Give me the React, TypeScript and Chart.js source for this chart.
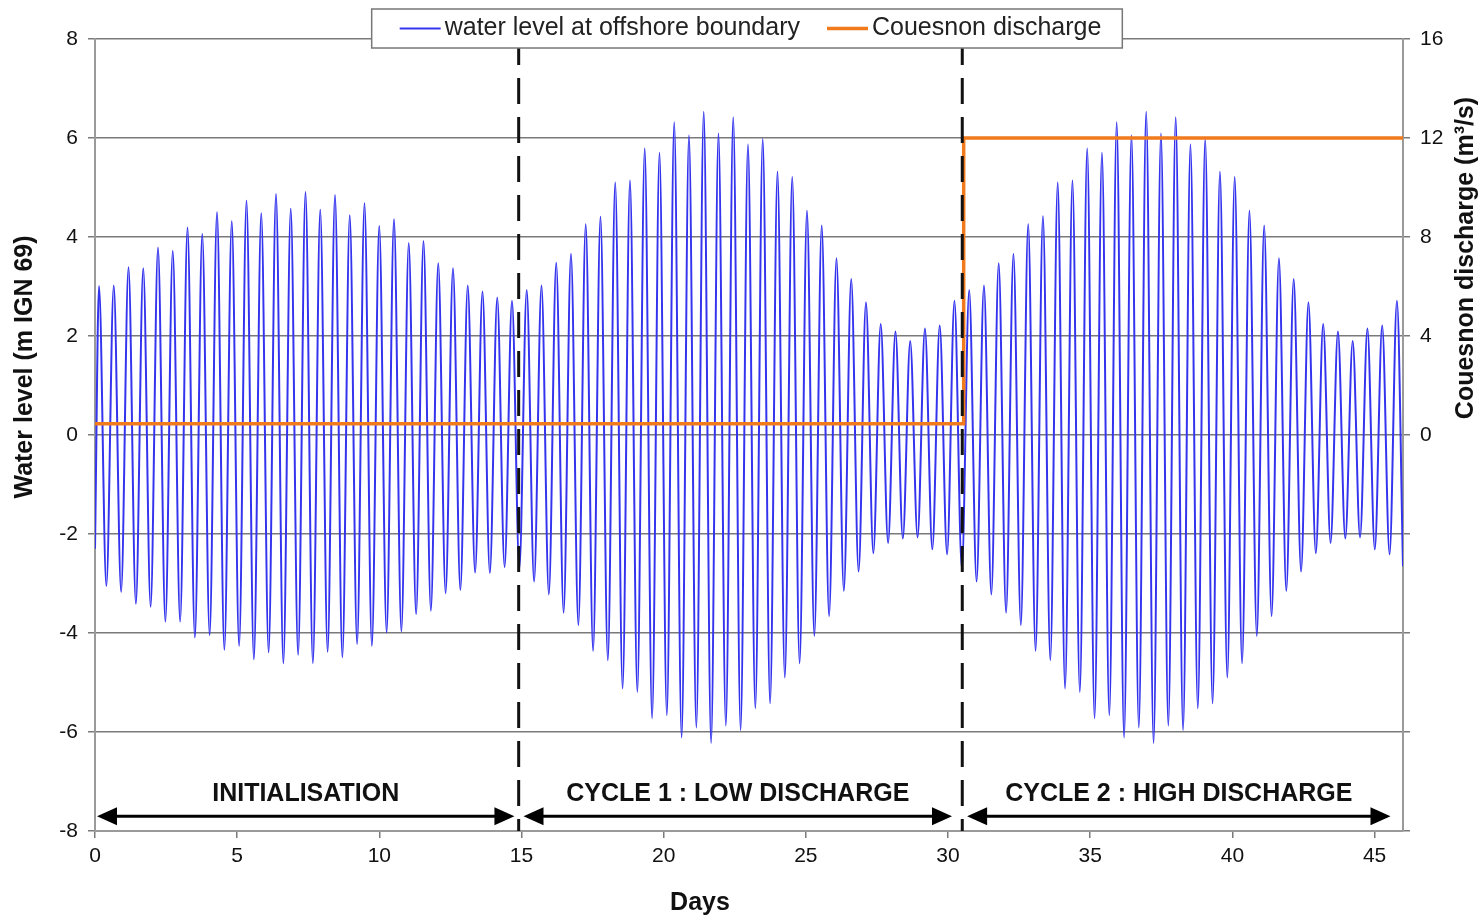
import React, { useEffect, useRef } from "react";
import { Chart, registerables } from "chart.js";

Chart.register(...registerables);

// ---- tide timing (semi-diurnal high waters on a regular grid) ----
const TIDE_START_DAY = 0.141;
const TIDE_PERIOD_DAYS = 0.5187;
const START_LEVEL = -2.3;
const END_DAY = 46;
const END_LEVEL = -2.65;

// ---- high waters (m IGN 69) ----
const initHighs = [
  3.01, 3.02, 3.39, 3.37, 3.79, 3.72, 4.19, 4.06, 4.5, 4.32, 4.73, 4.48, 4.87, 4.57, 4.91,
  4.55, 4.85, 4.44, 4.68, 4.22, 4.36, 3.88, 3.92, 3.47, 3.37, 3.02, 2.9, 2.78, 2.71,
];
const cycle1Highs = [
  2.93, 3.02, 3.48, 3.66, 4.26, 4.41, 5.1, 5.14, 5.79, 5.7, 6.32, 6.05, 6.53, 6.09, 6.42,
  5.87, 5.98, 5.32, 5.21, 4.53, 4.23, 3.57, 3.15, 2.68, 2.24, 2.09, 1.9, 2.15, 2.21, 2.71,
];
const cycle2Highs = [
  2.93, 3.02, 3.47, 3.66, 4.26, 4.42, 5.1, 5.14, 5.79, 5.7, 6.32, 6.05, 6.53, 6.09, 6.42,
  5.87, 5.98, 5.32, 5.21, 4.53, 4.23, 3.57, 3.15, 2.68, 2.24, 2.09, 1.9, 2.15, 2.21, 2.71,
];

// ---- low waters (m IGN 69) ----
const initLows = [
  -3.05, -3.17, -3.41, -3.47, -3.77, -3.77, -4.09, -4.04, -4.34, -4.26, -4.53, -4.39, -4.61,
  -4.44, -4.61, -4.38, -4.49, -4.22, -4.26, -3.99, -3.97, -3.62, -3.55, -3.2, -3.13, -2.78,
  -2.79, -2.67,
];
const cycle1Lows = [
  -2.7, -2.96, -3.22, -3.59, -3.84, -4.36, -4.55, -5.12, -5.19, -5.72, -5.66, -6.11, -5.91,
  -6.22, -5.87, -5.96, -5.52, -5.42, -4.9, -4.61, -4.06, -3.66, -3.15, -2.76, -2.39, -2.18,
  -2.09, -2.07, -2.31, -2.41,
];
const cycle2Lows = [
  -2.7, -2.96, -3.22, -3.59, -3.84, -4.36, -4.55, -5.12, -5.19, -5.72, -5.66, -6.11, -5.91,
  -6.22, -5.87, -5.96, -5.52, -5.42, -4.9, -4.61, -4.06, -3.66, -3.15, -2.76, -2.39, -2.18,
  -2.09, -2.07, -2.31, -2.41,
];

// ---- Couesnon discharge (m3/s) ----
const dischargeDays = [0, 30.55, 30.55, 46];
const dischargeValues = [0.45, 0.45, 12, 12];

// ---- phases ----
const phaseLabels = ["INITIALISATION", "CYCLE 1 : LOW DISCHARGE", "CYCLE 2 : HIGH DISCHARGE"];
const phaseStart = [0.07, 15.07, 30.67];
const phaseEnd = [14.75, 30.14, 45.56];
const phaseBoundaries = [14.9, 30.5];
const ARROW_LEVEL = -7.7;
const LABEL_LEVEL = -7.25;

const legendLabels = ["water level at offshore boundary", "Couesnon discharge"];

const BLUE = "#3434ee";
const ORANGE = "#f07a1c";
const GRID = "#7a7a7a";
const AXIS = "#9a9a9a";
const FONT = "'Liberation Sans', Arial, sans-serif";

function buildLevel() {
  const highs = [...initHighs, ...cycle1Highs, ...cycle2Highs];
  const lows = [...initLows, ...cycle1Lows, ...cycle2Lows];
  const pts: { x: number; y: number }[] = [{ x: 0, y: START_LEVEL }];
  for (let k = 0; k < highs.length; k++) {
    pts.push({ x: TIDE_START_DAY + k * TIDE_PERIOD_DAYS, y: highs[k] });
    if (k < lows.length) {
      pts.push({ x: TIDE_START_DAY + (k + 0.5) * TIDE_PERIOD_DAYS, y: lows[k] });
    }
  }
  pts.push({ x: END_DAY, y: END_LEVEL });
  return pts;
}

const overlayPlugin = {
  id: "overlay",
  afterDatasetsDraw(chart: any) {
    const { ctx, chartArea, scales } = chart;
    const xs = scales.x;
    const ys = scales.y;
    ctx.save();
    // dashed phase boundaries
    ctx.strokeStyle = "#111";
    ctx.lineWidth = 3;
    ctx.setLineDash([26, 13]);
    phaseBoundaries.forEach((d) => {
      const px = xs.getPixelForValue(d);
      ctx.beginPath();
      ctx.moveTo(px, chartArea.top);
      ctx.lineTo(px, chartArea.bottom);
      ctx.stroke();
    });
    ctx.setLineDash([]);
    // arrows
    const ay = ys.getPixelForValue(ARROW_LEVEL);
    const ly = ys.getPixelForValue(LABEL_LEVEL);
    ctx.fillStyle = "#000";
    ctx.strokeStyle = "#000";
    ctx.lineWidth = 3;
    const head = 20;
    const half = 9;
    phaseLabels.forEach((label, i) => {
      const x1 = xs.getPixelForValue(phaseStart[i]);
      const x2 = xs.getPixelForValue(phaseEnd[i]);
      ctx.beginPath();
      ctx.moveTo(x1 + head - 2, ay);
      ctx.lineTo(x2 - head + 2, ay);
      ctx.stroke();
      ctx.beginPath();
      ctx.moveTo(x1, ay);
      ctx.lineTo(x1 + head, ay - half);
      ctx.lineTo(x1 + head, ay + half);
      ctx.closePath();
      ctx.fill();
      ctx.beginPath();
      ctx.moveTo(x2, ay);
      ctx.lineTo(x2 - head, ay - half);
      ctx.lineTo(x2 - head, ay + half);
      ctx.closePath();
      ctx.fill();
      ctx.font = `bold 25px ${FONT}`;
      ctx.textAlign = "center";
      ctx.textBaseline = "middle";
      ctx.fillStyle = "#111";
      ctx.fillText(label, (x1 + x2) / 2, ly);
      ctx.fillStyle = "#000";
    });
    ctx.restore();
  },
  afterDraw(chart: any) {
    const { ctx, chartArea } = chart;
    ctx.save();
    // axis titles
    ctx.fillStyle = "#111";
    ctx.font = `bold 25px ${FONT}`;
    ctx.textAlign = "center";
    ctx.textBaseline = "middle";
    ctx.save();
    ctx.translate(25, 367);
    ctx.rotate(-Math.PI / 2);
    ctx.fillText("Water level (m IGN 69)", 0, 0);
    ctx.restore();
    ctx.save();
    ctx.translate(1466, 258);
    ctx.rotate(-Math.PI / 2);
    ctx.fillText("Couesnon discharge (m³/s)", 0, 0);
    ctx.restore();
    ctx.fillText("Days", 700, 903);

    // legend
    ctx.font = `25px ${FONT}`;
    const w1 = ctx.measureText(legendLabels[0]).width;
    const w2 = ctx.measureText(legendLabels[1]).width;
    const padL = 28, lineLen = 41, gap = 4, between = 27, padR = 21;
    const boxW = padL + lineLen + gap + w1 + between + lineLen + gap + w2 + padR;
    const cx = (chartArea.left + chartArea.right) / 2 - 2;
    const bx = cx - boxW / 2;
    const by = 9;
    const bh = 39;
    ctx.fillStyle = "#fff";
    ctx.fillRect(bx, by, boxW, bh);
    ctx.strokeStyle = "#777";
    ctx.lineWidth = 1.5;
    ctx.strokeRect(bx, by, boxW, bh);
    const my = by + bh / 2;
    let x = bx + padL;
    ctx.strokeStyle = BLUE;
    ctx.lineWidth = 2;
    ctx.beginPath();
    ctx.moveTo(x, my);
    ctx.lineTo(x + lineLen, my);
    ctx.stroke();
    x += lineLen + gap;
    ctx.fillStyle = "#222";
    ctx.textAlign = "left";
    ctx.fillText(legendLabels[0], x, my);
    x += w1 + between;
    ctx.strokeStyle = ORANGE;
    ctx.lineWidth = 3.5;
    ctx.beginPath();
    ctx.moveTo(x, my);
    ctx.lineTo(x + lineLen, my);
    ctx.stroke();
    x += lineLen + gap;
    ctx.fillText(legendLabels[1], x, my);
    ctx.restore();
  },
};

export default function App() {
  const ref = useRef<HTMLCanvasElement>(null);
  useEffect(() => {
    document.body.style.margin = "0";
    const canvas = ref.current!;
    const tickFont = { family: FONT, size: 21 };
    const chart = new Chart(canvas, {
      type: "line",
      data: {
        datasets: [
          {
            label: legendLabels[0],
            data: buildLevel(),
            borderColor: BLUE,
            borderWidth: 2,
            pointRadius: 0,
            cubicInterpolationMode: "monotone",
            yAxisID: "y",
            order: 2,
          } as any,
          {
            label: legendLabels[1],
            data: dischargeDays.map((d, i) => ({ x: d, y: dischargeValues[i] })),
            borderColor: ORANGE,
            borderWidth: 3.5,
            pointRadius: 0,
            tension: 0,
            yAxisID: "y2",
            order: 1,
          } as any,
        ],
      },
      options: {
        responsive: false,
        animation: false,
        events: [],
        layout: { padding: { top: 39, left: 0, right: 0, bottom: 0 } },
        plugins: { legend: { display: false }, tooltip: { enabled: false } },
        scales: {
          x: {
            type: "linear",
            min: 0,
            max: 46,
            afterFit: (s: any) => {
              s.height = 86;
            },
            ticks: { stepSize: 5, includeBounds: false, font: tickFont, color: "#111", padding: 6, maxRotation: 0 },
            grid: { drawOnChartArea: false, drawTicks: true, tickLength: 7, color: GRID, lineWidth: 1.5 },
            border: { display: true, color: AXIS, width: 2 },
          },
          y: {
            type: "linear",
            position: "left",
            min: -8,
            max: 8,
            afterFit: (s: any) => {
              s.width = 95;
            },
            ticks: { stepSize: 2, font: tickFont, color: "#111", padding: 10 },
            grid: { color: GRID, lineWidth: 1.5, tickLength: 7 },
            border: { display: true, color: AXIS, width: 2 },
          },
          y2: {
            type: "linear",
            position: "right",
            min: -16,
            max: 16,
            afterFit: (s: any) => {
              s.width = 80;
            },
            ticks: {
              stepSize: 4,
              font: tickFont,
              color: "#111",
              padding: 10,
              callback: (v: any) => (Number(v) >= 0 ? String(v) : ""),
            },
            grid: { drawOnChartArea: false, tickLength: 7, color: GRID, lineWidth: 1.5 },
            border: { display: true, color: AXIS, width: 2 },
          },
        },
      },
      plugins: [overlayPlugin],
    });
    return () => chart.destroy();
  }, []);
  return (
    <div style={{ position: "fixed", left: 0, top: 0, width: 1483, height: 917, background: "#fff" }}>
      <canvas ref={ref} width={1483} height={917} style={{ display: "block" }} />
    </div>
  );
}
